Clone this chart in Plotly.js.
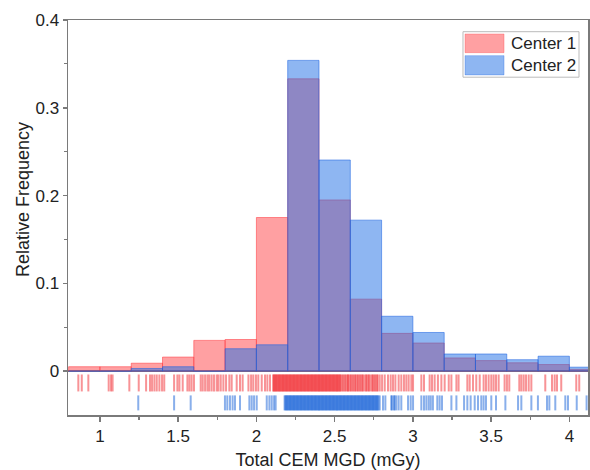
<!DOCTYPE html>
<html>
<head>
<meta charset="utf-8">
<script src="https://cdn.plot.ly/plotly-3.0.1.min.js"></script>
<style>html,body{margin:0;padding:0;background:#fff;}#chart{width:590px;height:470px;}</style>
</head>
<body>
<div id="chart"></div>
<script>
// Histogram bin centers (bin width 0.2)
const binCenters = [0.9,1.1,1.3,1.5,1.7,1.9,2.1,2.3,2.5,2.7,2.9,3.1,3.3,3.5,3.7,3.9,4.1];
const center1Freq = [0.005,0.005,0.009,0.016,0.035,0.036,0.175,0.333,0.195,0.082,0.043,0.032,0.015,0.012,0.0095,0.0075,0.002];
const center2Freq = [0,0,0.003,0.005,0,0.0255,0.030,0.354,0.2405,0.172,0.0625,0.044,0.0195,0.0195,0.013,0.017,0.0045];

// Rug values (individual measurements)
const center1Rug = [0.862,0.884,0.926,1.056,1.071,1.081,1.188,1.248,1.295,1.320,1.333,1.348,1.363,1.380,1.397,1.411,
 1.474,1.495,1.508,1.529,1.559,1.572,1.586,1.601,1.644,1.657,1.672,1.687,1.699,1.714,1.729,1.746,1.757,1.772,1.789,
 1.806,1.827,1.842,1.874,1.895,1.912,1.949,1.966,1.980,1.997,2.012,2.034,2.055,2.070,2.087,2.108,
 2.11,2.115,2.12,2.125,2.13,2.135,2.14,2.145,2.15,2.155,2.16,2.165,2.17,2.175,2.18,2.185,2.19,2.195,2.2,2.205,2.21,
 2.215,2.22,2.225,2.23,2.235,2.24,2.245,2.25,2.255,2.26,2.265,2.27,2.275,2.28,2.285,2.29,2.295,2.3,2.305,2.31,2.315,
 2.32,2.325,2.33,2.335,2.34,2.345,2.35,2.355,2.36,2.365,2.37,2.375,2.38,2.385,2.39,2.395,2.4,2.405,2.41,2.415,2.42,
 2.425,2.43,2.435,2.44,2.445,2.45,2.455,2.46,2.465,2.47,2.475,2.48,2.485,2.49,2.495,2.5,2.505,2.51,2.515,2.52,2.525,2.53,
 2.535,2.54,2.55,2.555,2.565,2.57,2.58,2.585,2.59,2.60,2.605,2.615,2.62,2.63,2.635,2.645,2.65,2.66,2.665,2.675,2.68,
 2.69,2.70,2.705,2.715,2.72,2.73,2.74,2.745,2.755,2.76,2.77,2.775,
 2.788,2.803,2.820,2.841,2.858,2.873,2.888,2.909,2.926,2.943,2.958,2.973,2.990,3.001,3.054,3.071,3.107,3.122,3.139,
 3.160,3.182,3.203,3.229,3.246,3.278,3.292,3.348,3.363,3.384,3.405,3.427,3.452,3.467,3.484,3.501,3.516,3.531,3.548,
 3.586,3.601,3.616,3.680,3.693,3.708,3.723,3.740,3.757,3.846,3.889,3.906,3.921,3.948,4.044,4.063];
const center2Rug = [1.245,1.474,1.580,1.799,1.814,1.831,1.848,1.863,1.895,1.955,1.970,1.985,2.002,2.066,2.083,2.098,2.113,2.123,
 2.18,2.185,2.19,2.195,2.2,2.205,2.21,2.215,2.22,2.225,2.23,2.235,2.24,2.245,2.25,2.255,2.26,2.265,2.27,2.275,2.28,
 2.285,2.29,2.295,2.3,2.305,2.31,2.315,2.32,2.325,2.33,2.335,2.34,2.345,2.35,2.355,2.36,2.365,2.37,2.375,2.38,2.385,
 2.39,2.395,2.4,2.405,2.41,2.415,2.42,2.425,2.43,2.435,2.44,2.445,2.45,2.455,2.46,2.465,2.47,2.475,2.48,2.485,2.49,
 2.495,2.5,2.505,2.51,2.515,2.52,2.525,2.53,2.535,2.54,2.545,2.55,2.555,2.56,2.565,2.57,2.575,2.58,2.585,2.59,2.595,
 2.6,2.605,2.61,2.615,2.62,2.625,2.63,2.635,2.64,2.645,2.65,2.655,2.66,2.665,2.67,2.675,2.68,2.685,2.69,2.695,2.7,
 2.705,2.71,2.715,2.72,2.725,2.73,2.735,2.74,2.745,2.75,2.755,2.76,2.765,2.77,2.775,2.78,
 2.788,2.809,2.824,2.862,2.866,2.879,2.883,2.894,2.909,2.926,2.969,2.986,3.001,3.054,3.071,3.086,3.101,3.114,3.128,3.156,3.171,
 3.186,3.246,3.278,3.327,3.348,3.369,3.395,3.416,3.437,3.452,3.467,3.501,3.531,3.591,3.672,3.693,3.757,3.799,3.857,
 3.872,3.910,3.974,3.991,4.047,4.11];

const seriesNames = ['Center 1','Center 2'];
const xTickVals = [1,1.5,2,2.5,3,3.5,4];
const xTickText = ['1','1.5','2','2.5','3','3.5','4'];
const yTickVals = [0,0.1,0.2,0.3,0.4];
const yTickText = ['0','0.1','0.2','0.3','0.4'];

const redFill = 'rgba(255,65,70,0.5)';
const blueFill = 'rgba(30,110,230,0.5)';
const font = 'Liberation Sans, Arial, sans-serif';
const axisColor = '#7a7a7a';

const rugY1 = center1Rug.map(() => -0.0135);
const rugY2 = center2Rug.map(() => -0.0362);

const traces = [
  {type:'bar', x:binCenters, y:center1Freq, width:0.2, name:seriesNames[0],
   marker:{color:redFill, line:{color:'rgba(255,60,65,0.55)', width:1}}, showlegend:false, hoverinfo:'skip'},
  {type:'bar', x:binCenters, y:center2Freq, width:0.2, name:seriesNames[1],
   marker:{color:blueFill, line:{color:'rgba(30,100,225,0.55)', width:1}}, showlegend:false, hoverinfo:'skip'},
  {type:'scatter', mode:'markers', x:center1Rug, y:rugY1, showlegend:false, hoverinfo:'skip',
   marker:{symbol:'line-ns-open', size:12.1, color:'rgba(242,40,45,0.5)', line:{width:2}}},
  {type:'scatter', mode:'markers', x:center2Rug, y:rugY2, showlegend:false, hoverinfo:'skip',
   marker:{symbol:'line-ns-open', size:10.7, color:'rgba(20,95,215,0.5)', line:{width:2}}}
];

const layout = {
  width:590, height:470,
  margin:{l:68, r:2, t:20, b:55},
  paper_bgcolor:'#fff', plot_bgcolor:'#fff',
  barmode:'overlay',
  font:{family:font, color:'#222', size:17},
  xaxis:{range:[0.796,4.119], showgrid:false, zeroline:false,
    showline:true, mirror:true, linecolor:axisColor, linewidth:1.5,
    tickmode:'array', tickvals:xTickVals, ticktext:xTickText,
    ticks:'outside', ticklen:5, tickwidth:1.5, tickcolor:axisColor,
    tickfont:{size:17, color:'#222', family:font},
    minor:{tickvals:[1.25,1.75,2.25,2.75,3.25,3.75], ticks:'outside', ticklen:3, tickwidth:1.2, tickcolor:axisColor},
    title:{text:'Total CEM MGD (mGy)', font:{size:18, color:'#222', family:font}, standoff:8}},
  yaxis:{range:[-0.05,0.4], showgrid:false,
    zeroline:true, zerolinecolor:axisColor, zerolinewidth:1.5,
    showline:true, mirror:true, linecolor:axisColor, linewidth:1.5,
    tickmode:'array', tickvals:yTickVals, ticktext:yTickText,
    ticks:'outside', ticklen:4, tickwidth:1.5, tickcolor:axisColor,
    tickfont:{size:17, color:'#222', family:font},
    minor:{tickvals:[0.05,0.15,0.25,0.35], ticks:'outside', ticklen:3, tickwidth:1.2, tickcolor:axisColor}},
  shapes:[
    {type:'rect', xref:'paper', yref:'paper', x0:0.7596, x1:0.9827, y0:0.8552, y1:0.9704,
     line:{color:'#bbb', width:1}, fillcolor:'#fff'},
    {type:'rect', xref:'paper', yref:'paper', x0:0.7635, x1:0.8385, y0:0.9173, y1:0.9646,
     line:{color:'rgba(255,60,65,0.3)', width:1}, fillcolor:redFill},
    {type:'rect', xref:'paper', yref:'paper', x0:0.7635, x1:0.8385, y0:0.861, y1:0.9098,
     line:{color:'rgba(30,100,225,0.3)', width:1}, fillcolor:blueFill}
  ],
  annotations:[
    {xref:'paper', yref:'paper', x:0.848, y:0.9411, xanchor:'left', yanchor:'middle', showarrow:false,
     text:seriesNames[0], font:{size:17, color:'#222', family:font}},
    {xref:'paper', yref:'paper', x:0.848, y:0.8855, xanchor:'left', yanchor:'middle', showarrow:false,
     text:seriesNames[1], font:{size:17, color:'#222', family:font}},
    {xref:'paper', yref:'paper', x:-0.062, y:0.546, xanchor:'right', yanchor:'middle', showarrow:false,
     textangle:-90, text:'Relative Frequency', font:{size:18, color:'#222', family:font}}
  ]
};

Plotly.newPlot('chart', traces, layout, {displayModeBar:false, staticPlot:true});
</script>
</body>
</html>
